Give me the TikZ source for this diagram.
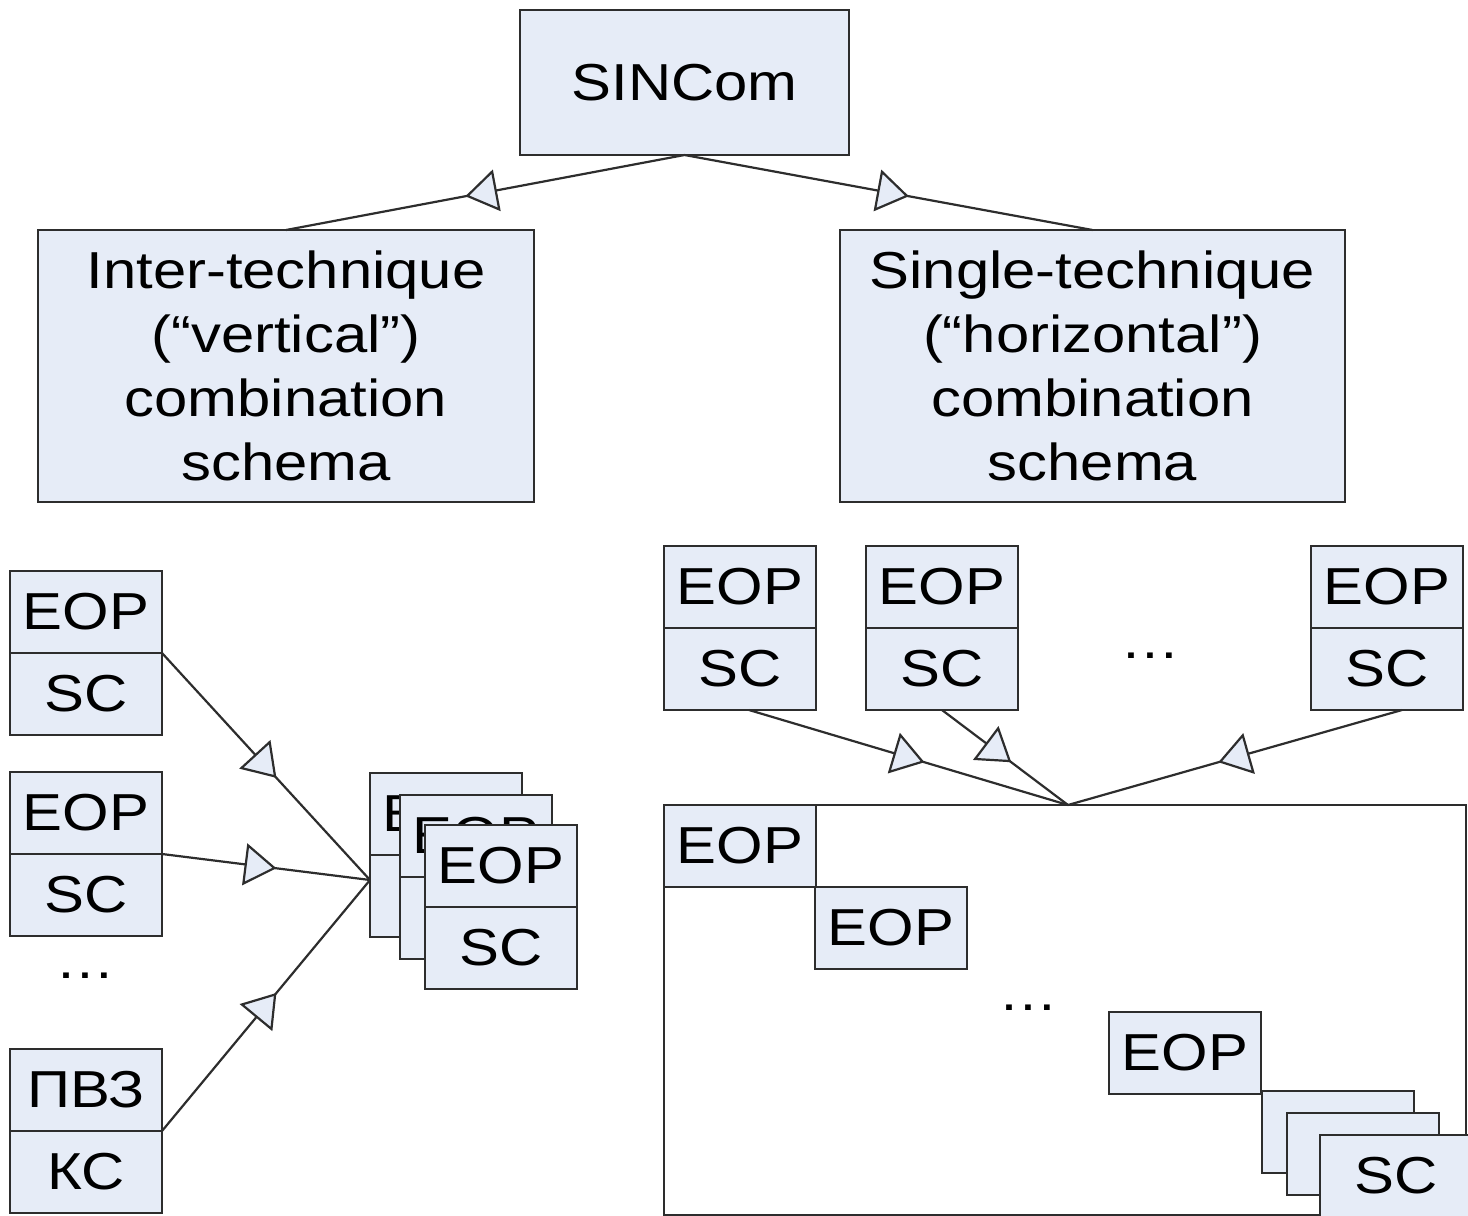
\documentclass[tikz,border=0pt]{standalone}
\usepackage{fontspec}
\setmainfont{Liberation Sans}[FakeStretch=1.15]
\usetikzlibrary{arrows.meta,decorations.markings,positioning,fit}
\definecolor{boxblue}{RGB}{230,236,247}
\definecolor{edgegray}{RGB}{45,45,45}
\newcommand{\labelfont}{\fontsize{26}{32}\selectfont}

\begin{document}
\begin{tikzpicture}[x=0.5pt,y=-0.5pt,
    cell/.style={draw=edgegray,fill=boxblue,line width=1.4pt,inner sep=0pt,outer sep=0pt,minimum width=76pt,minimum height=41pt,font=\labelfont},
    schema/.style={cell,align=center,minimum height=136pt},
    flow/.style={draw=edgegray,line width=1.1pt,postaction={decorate},
      decoration={markings,mark=at position 0.55 with {\arrow[line width=1.1pt]{Triangle[length=16pt,width=21pt,fill=boxblue]}}}}]
    \path[use as bounding box,clip] (0,0) rectangle (1468,1216);
    % top level
    \node[cell,minimum width=164.5pt,minimum height=72.5pt] (sincom) at (684.5,82.5) {SINCom};
    \node[schema,minimum width=248pt] (inter) at (286,366) {Inter-technique\\(“vertical”)\\combination\\schema};
    \node[schema,minimum width=252.5pt] (single) at (1092.5,366) {Single-technique\\(“horizontal”)\\combination\\schema};
    \draw[flow] (sincom.south) -- (inter.north);
    \draw[flow] (sincom.south) -- (single.north);
    % vertical combination
    \node[cell] (eop1) at (86,612) {EOP};
    \node[cell,below=0pt of eop1] (sc1) {SC};
    \node[cell] (eop2) at (86,813) {EOP};
    \node[cell,below=0pt of eop2] (sc2) {SC};
    \node[font=\labelfont] (vdots) at (85,976) {…};
    \node[cell] (pvz) at (86,1090) {ПВЗ};
    \node[cell,below=0pt of pvz] (ks) {КС};
    \coordinate (vjoin) at (370,880);
    \draw[flow] (sc1.north east) -- (vjoin);
    \draw[flow] (sc2.north east) -- (vjoin);
    \draw[flow] (ks.north east) -- (vjoin);
    \node[cell] (veopa) at (446,814) {EOP};
    \node[cell,below=0pt of veopa] (vsca) {SC};
    \node[cell] (veopb) at (476,836) {EOP};
    \node[cell,below=0pt of veopb] (vscb) {SC};
    \node[cell] (veopc) at (501,866) {EOP};
    \node[cell,below=0pt of veopc] (vscc) {SC};
    % horizontal combination
    \node[cell] (eop4) at (740,587) {EOP};
    \node[cell,below=0pt of eop4] (sc4) {SC};
    \node[cell] (eop5) at (942,587) {EOP};
    \node[cell,below=0pt of eop5] (sc5) {SC};
    \node[font=\labelfont] (hdots) at (1150,656) {…};
    \node[cell] (eop6) at (1387,587) {EOP};
    \node[cell,below=0pt of eop6] (sc6) {SC};
    \node[draw=edgegray,line width=1.4pt,inner sep=0pt,outer sep=0pt,fit={(664,805) (1466,1215)}] (frame) {};
    \coordinate (hjoin) at (1068,805);
    \draw[flow] ([xshift=4.5pt]sc4.south) -- (hjoin);
    \draw[flow] (sc5.south) -- (hjoin);
    \draw[flow] ([xshift=7.5pt]sc6.south) -- (hjoin);
    \node[cell] (heop1) at (740,846) {EOP};
    \node[cell] (heop2) at (891,928) {EOP};
    \node[font=\labelfont] (idots) at (1028,1008) {…};
    \node[cell] (heop3) at (1185,1053) {EOP};
    \node[cell] (hsca) at (1338,1132) {SC};
    \node[cell] (hscb) at (1363,1154) {SC};
    \node[cell] (hscc) at (1396,1176) {SC};
\end{tikzpicture}
\end{document}
